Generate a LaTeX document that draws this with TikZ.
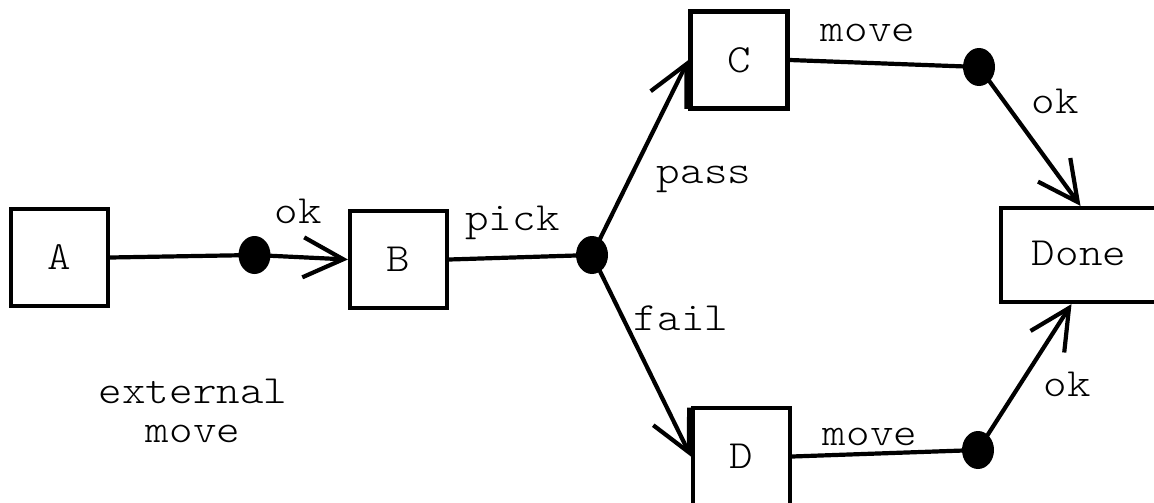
\documentclass[tikz,border=0pt]{standalone}
\usepackage{fontspec}
\newfontfamily\labelfont[FakeStretch=1.12]{Latin Modern Mono Light}
\usetikzlibrary{arrows.meta,shapes.geometric}
\begin{document}
\begin{tikzpicture}[x=1pt,y=-1pt,
  every node/.style={font=\labelfont\fontsize{40}{39}\selectfont},
  state/.style={draw,line width=4.2pt,rectangle,minimum width=97pt,minimum height=97pt,inner sep=0pt},
  junction/.style={ellipse,fill=black,minimum width=32pt,minimum height=38pt,inner sep=0pt},
  lbl/.style={inner sep=0pt,anchor=base},
  wire/.style={line width=4.2pt},
  flow/.style={wire,-{Straight Barb[length=40pt,width=40pt,line width=4.2pt]}}]
\useasboundingbox (0,0) rectangle (1154,503);

% states
\node[state] (A) at (59.5,257.5) {A};
\node[state] (B) at (398.5,259.5) {B};
\node[state] (C) at (739,60) {C};
\node[state] (D) at (741.5,456.5) {D};
\node[state,minimum width=159pt,minimum height=94pt] (Done) at (1080.5,255) {};
\node[lbl] (donetext) at (1079,265) {Done};

% junction points
\node[junction] (j1) at (254.5,255) {};
\node[junction] (j2) at (592,255) {};
\node[junction] (j3) at (979,67) {};
\node[junction] (j4) at (978,450) {};

% transitions
\draw[wire] (A.east) -- (j1.center);
\draw[flow] (j1.center) -- (B.west);
\draw[wire] (B.east) -- (j2.center);
\draw[flow] (j2.center) -- (C.west);
\draw[flow] (j2.center) -- (D.west);
\draw[wire] (C.east) -- (j3.center);
\draw[flow] (j3.center) -- (Done.north);
\draw[wire] (D.east) -- (j4.center);
\draw[flow] (j4.center) -- ([xshift=-9pt]Done.south);

% labels
\node[lbl] (l1) at (298.5,223) {ok};
\node[lbl] (l2) at (512.5,230) {pick};
\node[lbl] (l3) at (704,183) {pass};
\node[lbl] (l4) at (681,330) {fail};
\node[lbl] (l5) at (868,42) {move};
\node[lbl] (l6) at (1055,113) {ok};
\node[lbl] (l7) at (870,445) {move};
\node[lbl] (l8) at (1067.5,396) {ok};
\node[lbl] (l9) at (193,403) {external};
\node[lbl] (l10) at (193,442) {move};
\end{tikzpicture}
\end{document}
